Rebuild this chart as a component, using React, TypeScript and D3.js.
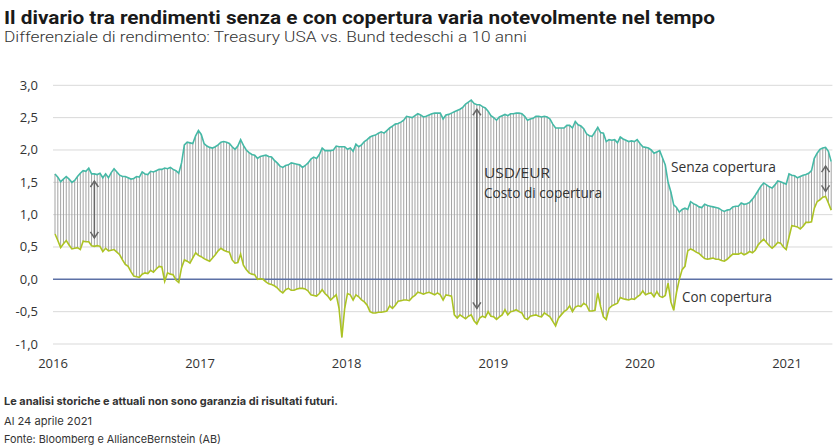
import React from "react";
import * as d3 from "d3";

const title = "Il divario tra rendimenti senza e con copertura varia notevolmente nel tempo";
const subtitle = "Differenziale di rendimento: Treasury USA vs. Bund tedeschi a 10 anni";
const notes = [
  "Le analisi storiche e attuali non sono garanzia di risultati futuri.",
  "Al 24 aprile 2021",
  "Fonte: Bloomberg e AllianceBernstein (AB)",
];
const yTicks = [3, 2.5, 2, 1.5, 1, 0.5, 0, -0.5, -1];
const yearTicks = [2016, 2017, 2018, 2019, 2020, 2021];
const startDate = new Date(2016, 0, 6);

// Senza copertura (unhedged), weekly
const unhedged = [
  1.63, 1.58, 1.51, 1.55, 1.59, 1.55, 1.50, 1.53, 1.59, 1.64,
  1.68, 1.67, 1.72, 1.63, 1.63, 1.62, 1.64, 1.57, 1.63, 1.57,
  1.65, 1.71, 1.66, 1.61, 1.59, 1.59, 1.57, 1.55, 1.56, 1.59,
  1.58, 1.66, 1.63, 1.62, 1.67, 1.66, 1.68, 1.70, 1.70, 1.72,
  1.71, 1.73, 1.70, 1.68, 1.64, 1.80, 2.08, 2.12, 2.11, 2.10,
  2.22, 2.30, 2.24, 2.10, 2.06, 2.04, 2.03, 2.05, 2.08, 2.12,
  2.13, 2.12, 2.10, 2.05, 2.01, 2.06, 2.16, 2.07, 2.00, 1.96,
  1.93, 1.92, 1.87, 1.90, 1.91, 1.92, 1.90, 1.89, 1.84, 1.80,
  1.75, 1.73, 1.76, 1.77, 1.80, 1.79, 1.78, 1.77, 1.73, 1.76,
  1.80, 1.86, 1.89, 1.87, 1.93, 2.03, 1.99, 1.99, 1.99, 2.00,
  2.06, 2.05, 2.05, 2.05, 2.01, 2.03, 1.98, 2.09, 2.05, 2.08,
  2.13, 2.16, 2.20, 2.22, 2.23, 2.26, 2.28, 2.26, 2.30, 2.34,
  2.37, 2.40, 2.41, 2.43, 2.46, 2.52, 2.51, 2.50, 2.53, 2.56,
  2.54, 2.51, 2.52, 2.54, 2.56, 2.57, 2.57, 2.57, 2.48, 2.54,
  2.55, 2.57, 2.59, 2.61, 2.63, 2.66, 2.71, 2.74, 2.77, 2.72,
  2.70, 2.70, 2.67, 2.65, 2.60, 2.53, 2.50, 2.46, 2.51, 2.53,
  2.55, 2.53, 2.56, 2.56, 2.57, 2.57, 2.56, 2.52, 2.46, 2.48,
  2.49, 2.52, 2.52, 2.51, 2.52, 2.51, 2.48, 2.40, 2.34, 2.34,
  2.34, 2.34, 2.38, 2.38, 2.34, 2.44, 2.39, 2.37, 2.33, 2.25,
  2.22, 2.21, 2.28, 2.35, 2.27, 2.26, 2.13, 2.16, 2.15, 2.16,
  2.11, 2.20, 2.17, 2.15, 2.13, 2.14, 2.13, 2.16, 2.10, 2.05,
  2.04, 2.03, 2.00, 1.95, 1.97, 1.99, 1.88, 1.77, 1.50, 1.35,
  1.15, 1.11, 1.04, 1.08, 1.10, 1.08, 1.20, 1.17, 1.15, 1.12,
  1.11, 1.16, 1.14, 1.13, 1.12, 1.11, 1.10, 1.07, 1.05, 1.07,
  1.08, 1.12, 1.13, 1.13, 1.18, 1.16, 1.17, 1.19, 1.24, 1.30,
  1.37, 1.44, 1.49, 1.46, 1.43, 1.41, 1.46, 1.52, 1.51, 1.49,
  1.47, 1.63, 1.61, 1.60, 1.57, 1.59, 1.61, 1.62, 1.64, 1.68,
  1.87, 1.95, 2.01, 2.03, 2.04, 1.98, 1.82,
];

// Con copertura (hedged), weekly
const hedged = [
  0.70, 0.60, 0.49, 0.55, 0.60, 0.53, 0.47, 0.48, 0.49, 0.46,
  0.59, 0.58, 0.58, 0.52, 0.51, 0.52, 0.51, 0.43, 0.48, 0.44,
  0.45, 0.46, 0.42, 0.38, 0.30, 0.23, 0.20, 0.12, 0.05, 0.04,
  0.03, 0.08, 0.10, 0.09, 0.14, 0.11, 0.16, 0.20, 0.19, -0.03,
  0.10, 0.08, 0.07, -0.01, -0.05, 0.18, 0.30, 0.28, 0.25, 0.33,
  0.41, 0.37, 0.35, 0.32, 0.30, 0.28, 0.33, 0.38, 0.44, 0.48,
  0.45, 0.43, 0.42, 0.30, 0.25, 0.26, 0.39, 0.22, 0.15, 0.10,
  0.08, 0.07, 0.00, 0.01, 0.00, -0.04, -0.07, -0.08, -0.10, -0.13,
  -0.18, -0.21, -0.16, -0.14, -0.17, -0.17, -0.15, -0.14, -0.14, -0.15,
  -0.18, -0.24, -0.25, -0.26, -0.22, -0.16, -0.22, -0.26, -0.32, -0.28,
  -0.24, -0.45, -0.90, -0.45, -0.22, -0.24, -0.32, -0.24, -0.27, -0.32,
  -0.35, -0.40, -0.50, -0.52, -0.52, -0.51, -0.51, -0.50, -0.49, -0.41,
  -0.45, -0.40, -0.34, -0.33, -0.32, -0.32, -0.33, -0.28, -0.25, -0.20,
  -0.21, -0.23, -0.21, -0.20, -0.22, -0.24, -0.21, -0.24, -0.32, -0.24,
  -0.25, -0.26, -0.55, -0.60, -0.55, -0.58, -0.61, -0.57, -0.55, -0.64,
  -0.69, -0.60, -0.57, -0.59, -0.50, -0.57, -0.58, -0.62, -0.58, -0.55,
  -0.47, -0.55, -0.50, -0.49, -0.47, -0.50, -0.52, -0.60, -0.62, -0.57,
  -0.56, -0.55, -0.57, -0.58, -0.52, -0.55, -0.58, -0.65, -0.72, -0.60,
  -0.55, -0.50, -0.47, -0.41, -0.50, -0.43, -0.41, -0.42, -0.37, -0.40,
  -0.49, -0.49, -0.48, -0.21, -0.42, -0.58, -0.62, -0.45, -0.41, -0.39,
  -0.37, -0.28, -0.30, -0.31, -0.32, -0.30, -0.31, -0.27, -0.24, -0.18,
  -0.24, -0.22, -0.21, -0.27, -0.19, -0.26, -0.28, -0.25, -0.06, -0.35,
  -0.48, -0.20, 0.00, 0.15, 0.20, 0.44, 0.47, 0.45, 0.42, 0.40,
  0.36, 0.32, 0.31, 0.32, 0.33, 0.31, 0.31, 0.29, 0.28, 0.31,
  0.35, 0.39, 0.39, 0.39, 0.41, 0.38, 0.40, 0.43, 0.41, 0.45,
  0.53, 0.58, 0.62, 0.57, 0.52, 0.48, 0.52, 0.57, 0.56, 0.50,
  0.46, 0.65, 0.83, 0.82, 0.81, 0.78, 0.82, 0.88, 0.88, 0.89,
  1.10, 1.20, 1.23, 1.27, 1.28, 1.18, 1.07,
];

// Arrow annotations: [week index, top value, bottom value]
const arrows = [
  [14, 1.52, 0.64],
  [150, 2.63, -0.45],
  [274, 1.75, 1.36],
];

const labelFont = "'Open Sans', 'Noto Sans', sans-serif";

export default function App() {
  const W = 840, H = 445;
  const x = d3.scaleTime()
    .domain([new Date(2016, 0, 1), new Date(2021, 3, 24)])
    .range([53, 832.4]);
  const y = d3.scaleLinear().domain([-1, 3]).range([344, 85.3]);
  const dates = unhedged.map((_, i) => d3.timeDay.offset(startDate, 7 * i));
  const line = d3.line<number>()
    .x((_, i) => x(dates[i]))
    .y((d) => y(d))
    .curve(d3.curveLinear);

  const arrowHead = (cx: number, cy: number, dir: number) =>
    `M${cx - 4},${cy + dir * 6} L${cx},${cy} L${cx + 4},${cy + dir * 6}`;

  return (
    <svg width={W} height={H} style={{ position: "absolute", left: 0, top: 0, background: "#fff" }}>
      <text x={4} y={23.5} fontFamily="Roboto, sans-serif" fontWeight={700} fontSize={19}
        fill="#1a1a1a" textLength={711} lengthAdjust="spacingAndGlyphs">{title}</text>
      <text x={4} y={41.5} fontFamily="Roboto, sans-serif" fontWeight={300} fontSize={14.5}
        fill="#333" textLength={523} lengthAdjust="spacingAndGlyphs">{subtitle}</text>

      {yTicks.map((t) => (
        <g key={t}>
          {t !== 0 && (
            <line x1={53} x2={832.4} y1={y(t)} y2={y(t)} stroke="#d9d9d9" strokeWidth={1} />
          )}
          <text x={38} y={y(t) + 4.5} textAnchor="end" fontFamily={labelFont} fontSize={13} fill="#333">
            {d3.format(".1f")(t).replace(".", ",").replace("−", "-")}
          </text>
        </g>
      ))}
      {yearTicks.map((yr) => (
        <text key={yr} x={x(new Date(yr, 0, 1))} y={368} textAnchor="middle"
          fontFamily={labelFont} fontSize={13} fill="#333">{yr}</text>
      ))}

      {unhedged.map((u, i) => (
        <line key={i} x1={x(dates[i])} x2={x(dates[i])} y1={y(u)} y2={y(hedged[i])}
          stroke="#a3a3a3" strokeWidth={1} />
      ))}

      <line x1={53} x2={832.4} y1={y(0)} y2={y(0)} stroke="#5d71a6" strokeWidth={1.5} />

      <path d={line(unhedged) || ""} fill="none" stroke="#45b9a6" strokeWidth={1.6} />
      <path d={line(hedged) || ""} fill="none" stroke="#acc324" strokeWidth={1.6} />

      {arrows.map(([i, top, bot], k) => {
        const ax = x(d3.timeDay.offset(startDate, 7 * i));
        const y1 = y(top), y2 = y(bot);
        return (
          <g key={k} stroke="#666" strokeWidth={1.5} fill="none">
            <line x1={ax} x2={ax} y1={y1} y2={y2} />
            <path d={arrowHead(ax, y1, 1)} />
            <path d={arrowHead(ax, y2, -1)} />
          </g>
        );
      })}

      <text x={484} y={178} fontFamily={labelFont} fontSize={14} fill="#333" textLength={66} lengthAdjust="spacingAndGlyphs">USD/EUR</text>
      <text x={484} y={197.5} fontFamily={labelFont} fontSize={14} fill="#333" textLength={118} lengthAdjust="spacingAndGlyphs">Costo di copertura</text>
      <text x={671} y={171.5} fontFamily={labelFont} fontSize={14} fill="#333" textLength={105} lengthAdjust="spacingAndGlyphs">Senza copertura</text>
      <text x={682} y={302} fontFamily={labelFont} fontSize={14} fill="#333" textLength={90} lengthAdjust="spacingAndGlyphs">Con copertura</text>

      <text x={4} y={405} fontFamily="Inter, Roboto, sans-serif" fontWeight={700} fontSize={11}
        fill="#333" textLength={334} lengthAdjust="spacingAndGlyphs">{notes[0]}</text>
      <text x={4} y={425} fontFamily="Inter, Roboto, sans-serif" fontSize={11} fill="#333"
        textLength={88} lengthAdjust="spacingAndGlyphs">{notes[1]}</text>
      <text x={4} y={443} fontFamily="Inter, Roboto, sans-serif" fontSize={11} fill="#333"
        textLength={217} lengthAdjust="spacingAndGlyphs">{notes[2]}</text>
    </svg>
  );
}
